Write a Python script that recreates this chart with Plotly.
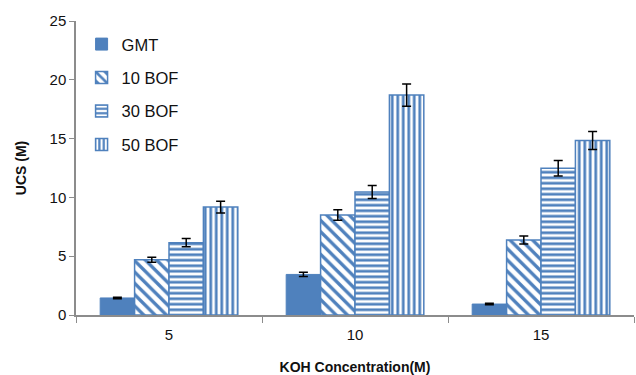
import plotly.graph_objects as go

categories = ["5", "10", "15"]
series_names = ["GMT", "10 BOF", "30 BOF", "50 BOF"]
gmt = [1.45, 3.45, 0.93]
bof10 = [4.7, 8.5, 6.37]
bof30 = [6.15, 10.46, 12.48]
bof50 = [9.18, 18.7, 14.84]
err_gmt = [0.06, 0.18, 0.06]
err_bof10 = [0.22, 0.45, 0.34]
err_bof30 = [0.35, 0.55, 0.66]
err_bof50 = [0.5, 0.95, 0.76]

values = [gmt, bof10, bof30, bof50]
errors = [err_gmt, err_bof10, err_bof30, err_bof50]
shapes = ["", "\\", "-", "|"]
sizes = [0, 8, 5.5, 5.5]
solid = [0, 0.42, 0.5, 0.5]

blue = "#4F81BD"
fig = go.Figure()
for i, name in enumerate(series_names):
    if shapes[i] == "":
        marker = dict(color=blue, line=dict(color=blue, width=1))
    else:
        marker = dict(color="white", line=dict(color=blue, width=1.5),
                      pattern=dict(shape=shapes[i], fgcolor=blue, bgcolor="white",
                                   fgopacity=1, size=sizes[i], solidity=solid[i],
                                   fillmode="overlay"))
    fig.add_trace(go.Bar(
        x=categories, y=values[i], name=name, marker=marker,
        legendgroup=name,
        error_y=dict(type="data", array=errors[i], color="black", thickness=1.5, width=4.5),
    ))

fig.update_layout(
    width=636, height=375,
    margin=dict(l=76, r=2, t=21, b=58),
    plot_bgcolor="white", paper_bgcolor="white",
    barmode="group", bargap=0.26, bargroupgap=0,
    font=dict(family="Liberation Sans, Arial, sans-serif", size=14, color="#111111"),
    showlegend=True,
    legend=dict(x=0.01, y=0.98, xanchor="left", yanchor="top",
                font=dict(size=16.5), tracegroupgap=9, bgcolor="rgba(0,0,0,0)"),
    xaxis=dict(
        title=dict(text="<b>KOH Concentration(M)</b>", font=dict(size=14), standoff=20),
        showline=True, linecolor="#8c8c8c", linewidth=1.5,
        ticks="outside", tickson="boundaries", ticklen=6, tickcolor="#8c8c8c",
        tickfont=dict(size=15), ticklabelstandoff=5,
    ),
    yaxis=dict(
        title=dict(text="<b>UCS (M)</b>", font=dict(size=14), standoff=20),
        range=[0, 25], dtick=5, showgrid=False, zeroline=False,
        showline=True, linecolor="#8c8c8c", linewidth=1.5,
        ticks="outside", ticklen=5, tickcolor="#8c8c8c",
        tickfont=dict(size=15),
    ),
)

fig.write_html("out.html", config={"displayModeBar": False})
with open("out.html", "r", encoding="utf-8") as f:
    html = f.read()
html = html.replace("<head>", "<head><style>html,body{margin:0;padding:0;overflow:hidden;}</style>", 1)
with open("out.html", "w", encoding="utf-8") as f:
    f.write(html)
